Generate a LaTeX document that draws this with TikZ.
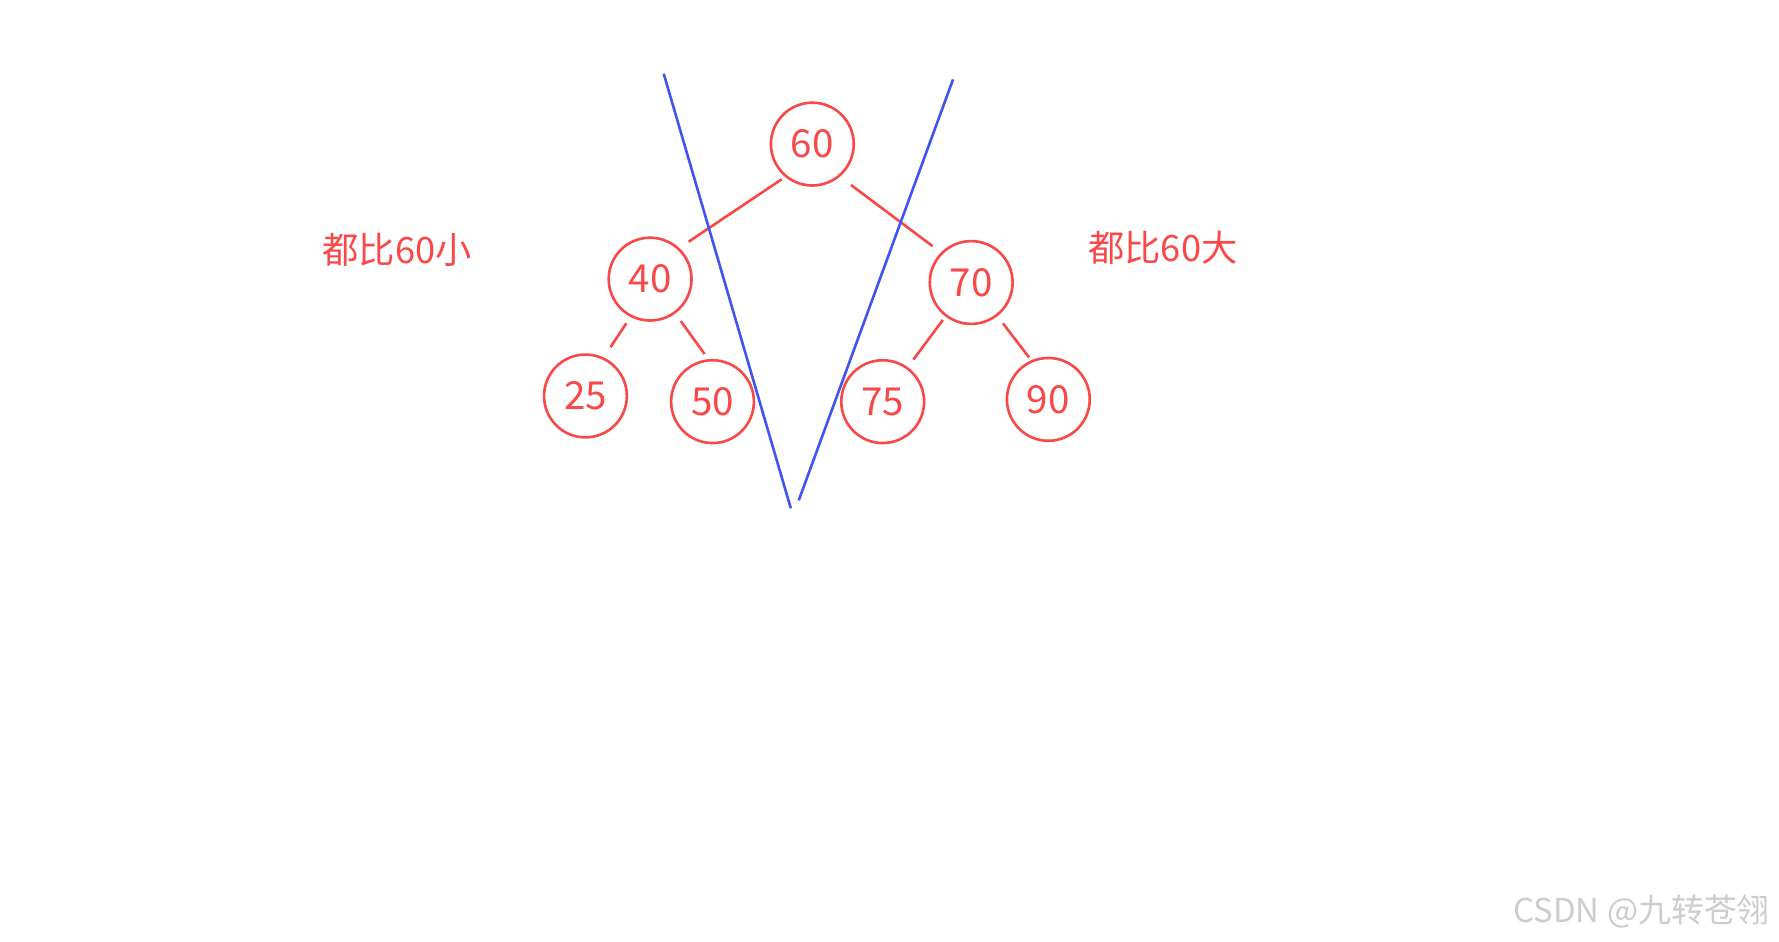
\documentclass[tikz,border=0pt]{standalone}
\usepackage{fontspec}
\setmainfont{Noto Sans CJK SC}
\usetikzlibrary{calc}
\definecolor{nodered}{RGB}{248,72,72}
\definecolor{lineblue}{RGB}{66,84,240}
\definecolor{wmgray}{RGB}{205,205,205}
\begin{document}
\begin{tikzpicture}[x=1pt,y=-1pt,
  treenode/.style={circle,draw=nodered,line width=2.3pt,minimum size=73pt,inner sep=0pt,text=nodered,font=\fontsize{34}{34}\selectfont},
  edge/.style={draw=nodered,line width=2.3pt},
  divider/.style={draw=lineblue,line width=2.3pt},
  label/.style={text=nodered,font=\fontsize{32}{32}\selectfont,inner sep=0pt}]
\useasboundingbox[fill=white] (0,0) rectangle (1568,830);
% nodes
\node[treenode] (n60) at (716,127) {60};
\node[treenode] (n40) at (573,246) {40};
\node[treenode] (n70) at (856,249) {70};
\node[treenode] (n25) at (516,349) {25};
\node[treenode] (n50) at (628,354) {50};
\node[treenode] (n75) at (778,354) {75};
\node[treenode] (n90) at (924,352) {90};
% edges
\draw[edge] ($(n60)+(-27,31)$) -- ($(n40)+(34,-33)$);
\draw[edge] ($(n60)+(34,36)$) -- ($(n70)+(-34,-32)$);
\draw[edge] ($(n40)+(-21,39)$) -- ($(n25)+(22,-43)$);
\draw[edge] ($(n40)+(27,37)$) -- ($(n50)+(-7,-42)$);
\draw[edge] ($(n70)+(-25,33)$) -- ($(n75)+(27,-37)$);
\draw[edge] ($(n70)+(28,36)$) -- ($(n90)+(-17,-37)$);
% dividing lines
\coordinate (l1) at (585,65);
\coordinate (l2) at (697,448);
\coordinate (r1) at (840,70);
\coordinate (r2) at (704,441);
\draw[divider] (l1) -- (l2);
\draw[divider] (r1) -- (r2);
% labels
\node[label] (lt) at (350,220) {都比60小};
\node[label] (rt) at (1025,218) {都比60大};
% watermark
\node[text=wmgray,font=\fontsize{29}{29}\selectfont,inner sep=0pt] (wm) at (1447,803) {CSDN @九转苍翎};
\end{tikzpicture}
\end{document}
